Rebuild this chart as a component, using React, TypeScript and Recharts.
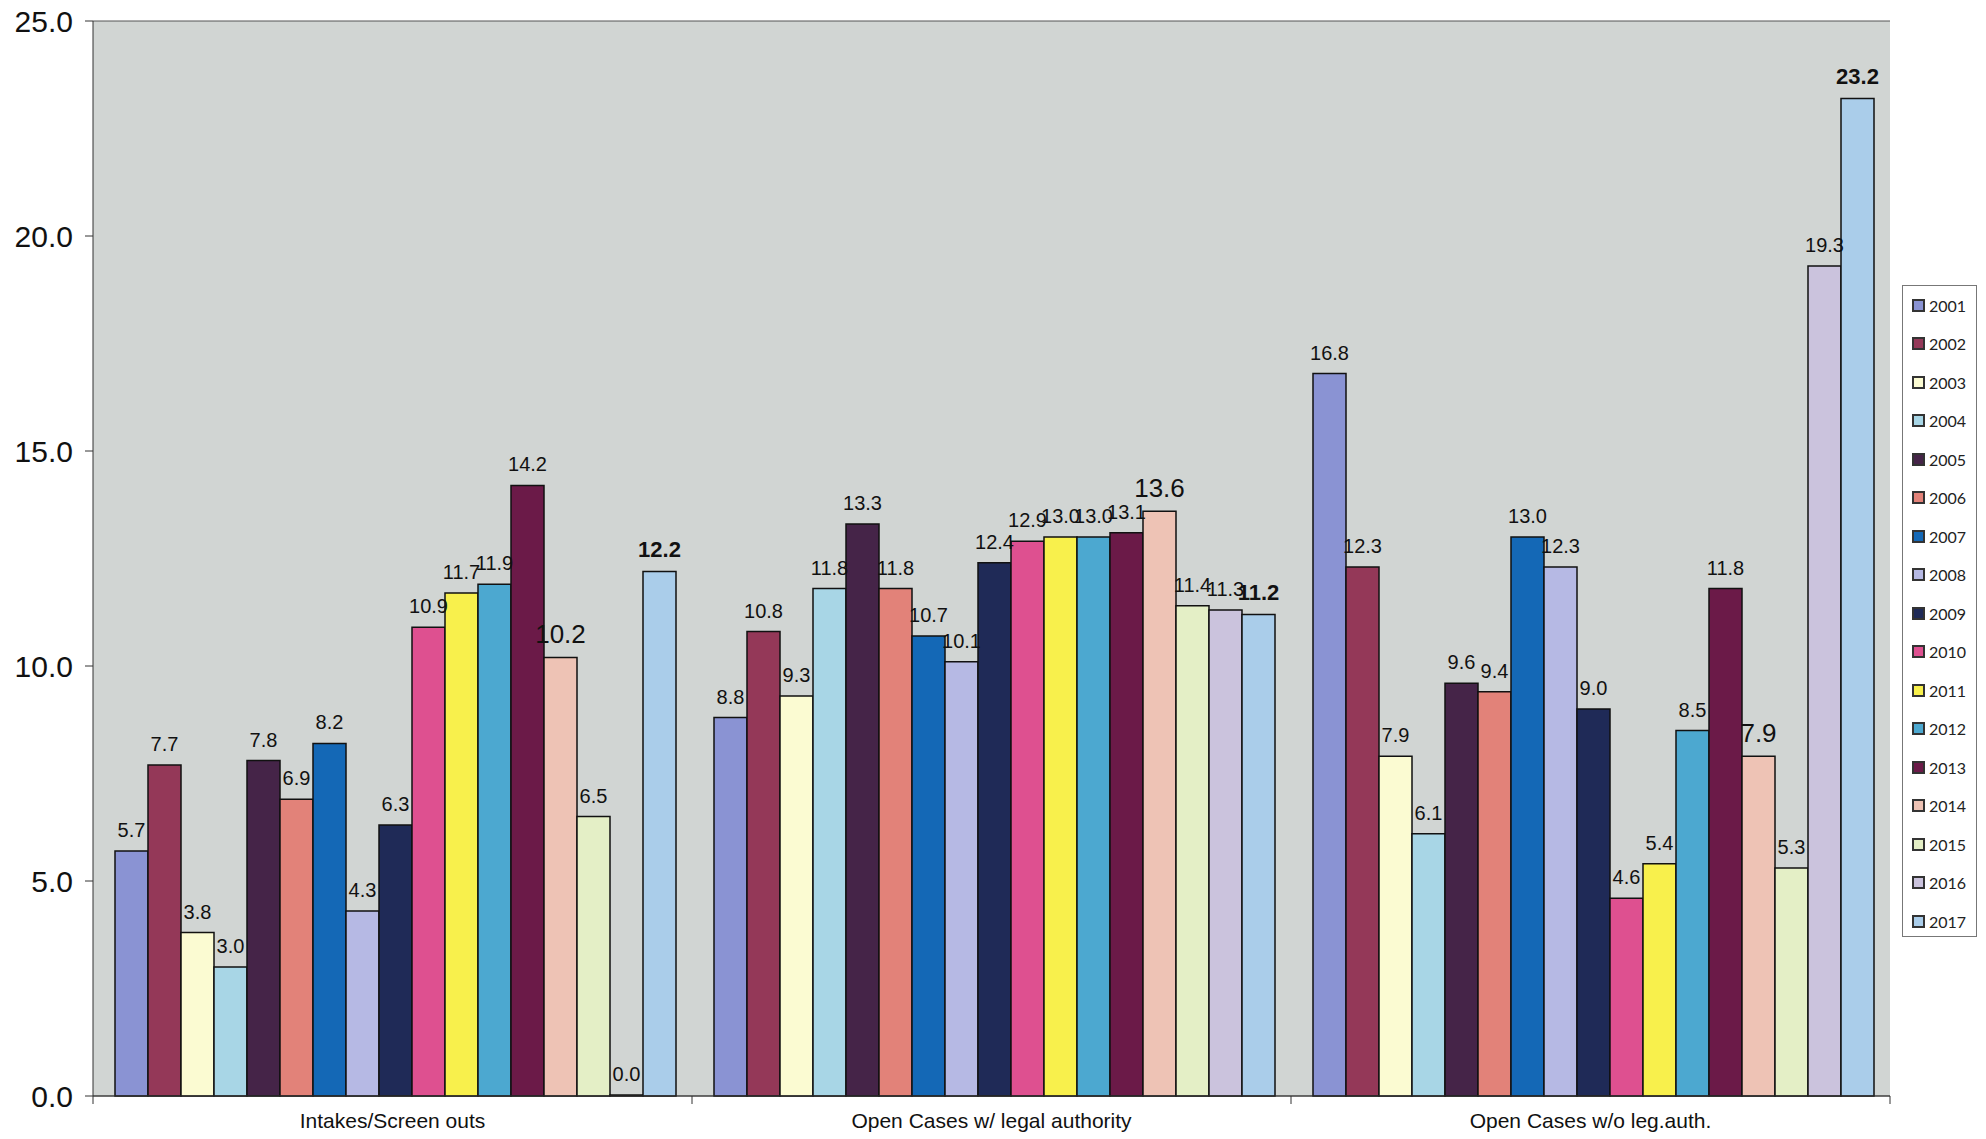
import React from 'react';
import { BarChart, Bar, XAxis, YAxis, CartesianGrid, LabelList } from 'recharts';

const categories = ['Intakes/Screen outs', 'Open Cases w/ legal authority', 'Open Cases w/o leg.auth.'];
const years = ['2001', '2002', '2003', '2004', '2005', '2006', '2007', '2008', '2009', '2010', '2011', '2012', '2013', '2014', '2015', '2016', '2017'];

// one list per category, ordered by year
const intakes = [5.7, 7.7, 3.8, 3.0, 7.8, 6.9, 8.2, 4.3, 6.3, 10.9, 11.7, 11.9, 14.2, 10.2, 6.5, 0.0, 12.2];
const withAuth = [8.8, 10.8, 9.3, 11.8, 13.3, 11.8, 10.7, 10.1, 12.4, 12.9, 13.0, 13.0, 13.1, 13.6, 11.4, 11.3, 11.2];
const withoutAuth = [16.8, 12.3, 7.9, 6.1, 9.6, 9.4, 13.0, 12.3, 9.0, 4.6, 5.4, 8.5, 11.8, 7.9, 5.3, 19.3, 23.2];

const yTicks = [0, 5, 10, 15, 20, 25];

const colors = [
    '#8a93d3', '#943858', '#fbfbd2', '#a8d6e6', '#452448', '#e28279', '#1468b6', '#b6b9e4',
    '#1f2a57', '#de5090', '#f8f04c', '#4ca8d0', '#6b1a48', '#eec3b5', '#e4efc6', '#cbc3dd', '#aacdea',
];

// labels that were typed bigger or bolder in the original
const labelStyle: Record<string, { size: number; weight: string }> = {
    '0-13': { size: 26, weight: 'normal' },
    '0-16': { size: 22, weight: 'bold' },
    '1-13': { size: 26, weight: 'normal' },
    '1-16': { size: 22, weight: 'bold' },
    '2-13': { size: 26, weight: 'normal' },
    '2-16': { size: 22, weight: 'bold' },
};

const rows = categories.map((name, ci) => {
    const src = [intakes, withAuth, withoutAuth][ci];
    const row: Record<string, string | number> = { name };
    years.forEach((y, i) => { row['y' + y] = src[i]; });
    return row;
});

const W = 1986;
const H = 1139;
const CAT_W = (1890 - 93) / 3;
const FONT = "Arial, 'Liberation Sans', sans-serif";

const CatTick = (props: any) => {
    const { x, y, payload, index } = props;
    return (
        <g>
            <line x1={x - CAT_W / 2} x2={x - CAT_W / 2} y1={y - 8} y2={y} stroke="#333" />
            {index === 2 && <line x1={x + CAT_W / 2} x2={x + CAT_W / 2} y1={y - 8} y2={y} stroke="#333" />}
            <text x={x} y={y + 24} textAnchor="middle" fontSize={21} fontFamily={FONT} fill="#111">
                {payload.value}
            </text>
        </g>
    );
};

const makeLabel = (si: number) => (props: any) => {
    const { x, y, width, value, index } = props;
    const st = labelStyle[index + '-' + si] || { size: 20, weight: 'normal' };
    return (
        <text x={x + width / 2} y={y - 14} textAnchor="middle" fontSize={st.size} fontWeight={st.weight}
            fontFamily={FONT} fill="#111">
            {Number(value).toFixed(1)}
        </text>
    );
};

export default function App() {
    return (
        <div style={{ position: 'absolute', left: 0, top: 0, width: W, height: H, background: '#fff' }}>
            <BarChart width={W} height={H} data={rows} barGap={0} barCategoryGap={22}
                margin={{ top: 21, right: 96, bottom: 0, left: 0 }}>
                <CartesianGrid vertical={false} stroke="#555" fill="#d1d5d3" fillOpacity={1} />
                <XAxis dataKey="name" height={43} axisLine={{ stroke: '#333' }} tickLine={false} tick={<CatTick />} interval={0} />
                <YAxis yAxisId="left" width={93} domain={[0, 25]} ticks={yTicks} interval={0}
                    tickFormatter={(v: number) => v.toFixed(1)} axisLine={{ stroke: '#333' }} tickLine={{ stroke: '#333' }}
                    tickSize={8} tickMargin={12}
                    tick={{ fontSize: 30, fill: '#111', fontFamily: FONT }} />
                <YAxis yAxisId="right" orientation="right" width={0} domain={[0, 25]} tick={false} tickLine={false} axisLine={{ stroke: '#666' }} />
                {years.map((y, si) => (
                    <Bar key={y} yAxisId="left" dataKey={'y' + y} name={y} fill={colors[si]} stroke="#111" strokeWidth={1.5}
                        minPointSize={1} isAnimationActive={false}>
                        <LabelList dataKey={'y' + y} content={makeLabel(si)} />
                    </Bar>
                ))}
            </BarChart>
            <div style={{ position: 'absolute', left: 1902, top: 285, width: 75, height: 652, border: '1px solid #777', boxSizing: 'border-box', background: '#fff' }}>
                {years.map((y, si) => (
                    <div key={y} style={{ position: 'absolute', left: 9, top: 10 + si * 38.5, height: 18, display: 'flex', alignItems: 'center', fontFamily: 'Lato, sans-serif', fontSize: 16, color: '#222' }}>
                        <span style={{ display: 'inline-block', width: 9, height: 9, background: colors[si], border: '2px solid #333', marginRight: 4 }} />
                        {y}
                    </div>
                ))}
            </div>
        </div>
    );
}
